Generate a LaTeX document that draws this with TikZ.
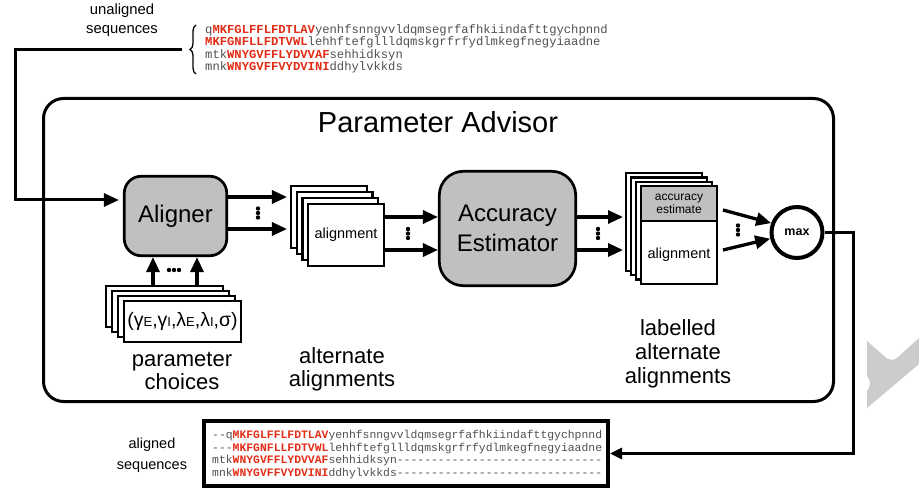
\documentclass[tikz,border=0pt]{standalone}
\usepackage{fontspec}
\setmainfont{Liberation Sans}
\newfontfamily\seqfont{Liberation Mono}
\usetikzlibrary{arrows.meta,calc,decorations.pathreplacing}
\definecolor{seqred}{RGB}{226,44,22}
\definecolor{seqgray}{RGB}{80,80,80}
\definecolor{boxgray}{RGB}{192,192,192}
\definecolor{wmgray}{RGB}{204,204,204}
\newcommand{\myfs}[1]{\fontsize{#1}{#1}\selectfont}
\newcommand{\rd}[1]{\textcolor{seqred}{\textbf{#1}}}
\begin{document}
\begin{tikzpicture}[x=1pt,y=-1pt,
  arr/.style={line width=3.3pt, -{Triangle[length=15pt,width=13pt]}},
  outarr/.style={line width=2.8pt, -{Triangle[length=12pt,width=11pt]}},
  procbox/.style={draw, line width=2.7pt, fill=boxgray, inner sep=0pt},
  stackbox/.style={draw, line width=2.4pt, fill=white, inner sep=0pt},
  lbl/.style={inner sep=0pt, anchor=base, font=\myfs{22}},
  seqtop/.style={inner sep=0pt, anchor=base west, text=seqgray, font=\seqfont\myfs{12.2}},
  seqbot/.style={inner sep=0pt, anchor=base west, text=seqgray, font=\seqfont\myfs{11.4}}
]
\useasboundingbox (0,0) rectangle (919,489);

% watermark chevron
\fill[wmgray] (867,341) -- (884,356) .. controls (889,361) and (894,361) .. (898,357) -- (919,338) -- (919,364) -- (867,408) -- (867,391) .. controls (871,386) and (871,381) .. (867,376) -- cycle;

% outer advisor box
\node[draw, line width=3pt, rounded corners=20pt, minimum width=790, minimum height=303, inner sep=0pt] (advisor) at (438.5,250) {};
\node[inner sep=0pt, anchor=base, font=\myfs{29}] (title) at (438,133) {Parameter Advisor};

% unaligned sequences
\node[inner sep=0pt, anchor=base, font=\myfs{14.8}] (ul1) at (122,15) {unaligned};
\node[inner sep=0pt, anchor=base, font=\myfs{14.8}] (ul2) at (122,33.5) {sequences};
\draw[decorate, decoration={brace, amplitude=6pt}, line width=1.3pt] (196,74) -- (196,25);
\node[seqtop] (u1) at (205,33.3) {q\rd{MKFGLFFLFDTLAV}yenhfsnngvvldqmsegrfafhkiindafttgychpnnd};
\node[seqtop] (u2) at (205,45.8) {\rd{MKFGNFLLFDTVWL}lehhftefgllldqmskgrfrfydlmkegfnegyiaadne};
\node[seqtop] (u3) at (205,58.3) {mtk\rd{WNYGVFFLYDVVAF}sehhidksyn};
\node[seqtop] (u4) at (205,70.8) {mnk\rd{WNYGVFFVYDVINI}ddhylvkkds};
\coordinate (in0) at (182,50);

% aligner
\node[procbox, rounded corners=17pt, minimum width=102.5, minimum height=79.5, font=\myfs{24}] (aligner) at (175.5,216) {Aligner};
\draw[arr, line width=3pt, shorten >=4pt] (in0) -- (15,50) |- ($(aligner.west)+(0,-16)$);

% parameter stack
\foreach \i in {0,1,2}
  \node[stackbox, minimum width=116.5, minimum height=40.5] (p\i) at ({164.5+6*\i},{306.5+5*\i}) {};
\node[stackbox, minimum width=116.5, minimum height=40.5, font=\myfs{19.5}] (p3) at (182.5,321.5)
  {(γ{\myfs{13}E},γ{\myfs{13}I},λ{\myfs{13}E},λ{\myfs{13}I},σ)};
\draw[arr] ($(p0.north)+(-11.5,0)$) -- ($(aligner.south)+(-22.5,0)$);
\draw[arr] ($(p0.north)+(32.5,0)$) -- ($(aligner.south)+(21.5,0)$);
\foreach \dx in {-5,0,5} \fill (174+\dx,270) circle[radius=2.2pt];
\node[lbl] (pc1) at (182,366.5) {parameter};
\node[lbl] (pc2) at (182,389.5) {choices};

% alternate alignments stack
\foreach \i in {0,1,2}
  \node[stackbox, minimum width=75.6, minimum height=61.6] (a\i) at ({346-5.67*(3-\i)},{235-6*(3-\i)}) {};
\node[stackbox, minimum width=75.6, minimum height=61.6, font=\myfs{14.5}] (a3) at (346,235) {alignment};
\coordinate (al1) at ($(aligner.east)+(0,-19)$);
\coordinate (al2) at ($(aligner.east)+(0,13)$);
\draw[arr, shorten >=3pt] (al1) -- (al1 -| a0.west);
\draw[arr, shorten >=3pt] (al2) -- (al2 -| a0.west);
\foreach \dy in {-4.5,0,4.5} \fill (258,213+\dy) circle[radius=2.2pt];
\node[lbl] (aa1) at (342,363.5) {alternate};
\node[lbl] (aa2) at (342,386) {alignments};

% accuracy estimator
\node[procbox, rounded corners=24pt, minimum width=136.4, minimum height=114.4, align=center, font=\fontsize{24}{30}\selectfont] (ae) at (507.5,228.5) {Accuracy\\Estimator};
\coordinate (ae1) at ($(a3.east)+(0,-18)$);
\coordinate (ae2) at ($(a3.east)+(0,15)$);
\draw[arr] (ae1) -- (ae1 -| ae.west);
\draw[arr] (ae2) -- (ae2 -| ae.west);
\foreach \dy in {-4.5,0,4.5} \fill (408,233.5+\dy) circle[radius=2.2pt];

% labelled stack
\foreach \i in {0,1,2}
  \node[stackbox, minimum width=75.6, minimum height=97.6] (l\i) at ({679-5*(3-\i)},{235-4.33*(3-\i)}) {};
\node[stackbox, minimum width=75.6, minimum height=97.6] (l3) at (679,235) {};
\node[stackbox, fill=boxgray, minimum width=75.6, minimum height=34.6, align=center, font=\fontsize{12}{13}\selectfont] (est) at (679,203.5) {accuracy\\estimate};
\node[inner sep=0pt, font=\myfs{14.5}] (l3txt) at (679,255) {alignment};
\coordinate (lb1) at ($(ae.east)+(0,-11.5)$);
\coordinate (lb2) at ($(ae.east)+(0,21.5)$);
\draw[arr, shorten >=2pt] (lb1) -- (lb1 -| l0.west);
\draw[arr, shorten >=2pt] (lb2) -- (lb2 -| l0.west);
\foreach \dy in {-4.5,0,4.5} \fill (598,233.5+\dy) circle[radius=2.2pt];
\node[lbl] (la1) at (678,335) {labelled};
\node[lbl] (la2) at (678,359.5) {alternate};
\node[lbl] (la3) at (678,383) {alignments};

% max
\node[circle, draw, line width=4pt, minimum size=51, inner sep=0pt, font=\bfseries\myfs{12.5}] (max) at (797,232.5) {max};
\draw[arr] ($(l3.east)+(5,-25)$) -- (max.160);
\draw[arr] ($(l3.east)+(5,15)$) -- (max.193);
\foreach \dy in {-4.5,0,4.5} \fill (738,230+\dy) circle[radius=2.2pt];

% output
\node[draw, line width=4pt, minimum width=404, minimum height=65, inner sep=0pt] (outbox) at (406,453.5) {};
\draw[outarr] (max.east) -- ++(29,0) |- (outbox.east);
\node[seqbot] (o1) at (212,438.5) {-{}-q\rd{MKFGLFFLFDTLAV}yenhfsnngvvldqmsegrfafhkiindafttgychpnnd};
\node[seqbot] (o2) at (212,451) {-{}-{}-\rd{MKFGNFLLFDTVWL}lehhftefgllldqmskgrfrfydlmkegfnegyiaadne};
\node[seqbot] (o3) at (212,463.5) {mtk\rd{WNYGVFFLYDVVAF}sehhidksyn-{}-{}-{}-{}-{}-{}-{}-{}-{}-{}-{}-{}-{}-{}-{}-{}-{}-{}-{}-{}-{}-{}-{}-{}-{}-{}-{}-{}-{}-};
\node[seqbot] (o4) at (212,476) {mnk\rd{WNYGVFFVYDVINI}ddhylvkkds-{}-{}-{}-{}-{}-{}-{}-{}-{}-{}-{}-{}-{}-{}-{}-{}-{}-{}-{}-{}-{}-{}-{}-{}-{}-{}-{}-{}-{}-};
\node[inner sep=0pt, anchor=base, font=\myfs{14.5}] (as1) at (152,448) {aligned};
\node[inner sep=0pt, anchor=base, font=\myfs{14.5}] (as2) at (152,469) {sequences};
\end{tikzpicture}
\end{document}
